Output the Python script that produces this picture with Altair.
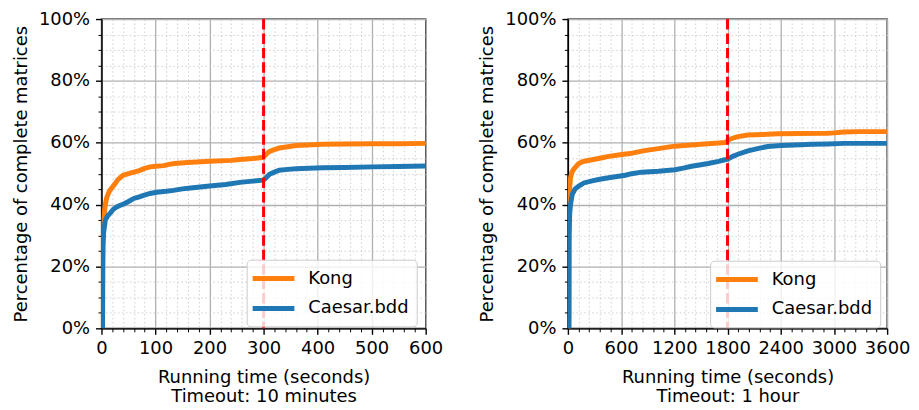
import altair as alt
import pandas as pd

SERIES = ["Kong", "Caesar.bdd"]
COLORS = ["#ff7f0e", "#1f77b4"]

# ---- Left panel (timeout 10 minutes) ----
left_kong_t = [0, 1, 2, 4, 7, 10, 15, 25, 30, 40, 50, 60, 70, 80, 90, 100, 115, 125, 135,
               160, 200, 240, 256, 280, 299, 305, 311, 320, 329, 345, 360, 380, 409, 450, 500, 550, 600]
left_kong_p = [0, 15, 30, 35, 40, 42.5, 44.5, 46.7, 48, 49.5, 50, 50.5, 51, 51.7, 52.2, 52.4, 52.6, 53, 53.3,
               53.6, 54, 54.3, 54.6, 54.9, 55.3, 56.3, 57.2, 57.8, 58.3, 58.7, 59.1, 59.3, 59.5, 59.6, 59.7, 59.7, 59.8]

left_caesar_t = [0, 2, 2.5, 3, 4, 7, 12, 17, 22, 29, 35, 41, 50, 60, 70, 78, 90, 102, 120, 133, 150, 165,
                 200, 230, 256, 280, 299, 303, 311, 320, 329, 345, 360, 409, 450, 501, 550, 600]
left_caesar_p = [0, 0, 20, 27, 31, 35, 36.5, 37.4, 38.5, 39.3, 39.8, 40.2, 41, 42, 42.5, 43, 43.6, 44, 44.3, 44.6, 45.1, 45.4,
                 46, 46.5, 47.2, 47.6, 47.9, 48.4, 49.8, 50.5, 51.1, 51.4, 51.6, 51.9, 52, 52.2, 52.3, 52.5]

# ---- Right panel (timeout 1 hour) ----
right_kong_t = [0, 10, 11, 20, 30, 45, 67, 90, 123, 160, 198, 272, 360, 460, 609, 700, 833, 920, 1020, 1110,
                1208, 1300, 1394, 1500, 1581, 1700, 1769, 1790, 1806, 1880, 1918, 2030, 2200, 2366, 2600,
                2927, 3000, 3114, 3300, 3600]
right_kong_p = [0, 0, 40, 45.5, 48.7, 50.5, 51.5, 52.3, 53.3, 53.8, 54.1, 54.5, 55, 55.6, 56.2, 56.5, 57.3, 57.7, 58.1, 58.5,
                58.9, 59.1, 59.3, 59.5, 59.7, 59.9, 60.1, 60.3, 60.9, 61.7, 62, 62.5, 62.7, 62.9, 63,
                63.1, 63.2, 63.5, 63.6, 63.6]

right_caesar_t = [0, 12, 14, 20, 30, 49, 80, 123, 180, 272, 360, 460, 647, 720, 833, 1020, 1208, 1300, 1394, 1500,
                  1581, 1700, 1769, 1806, 1860, 1918, 2030, 2150, 2254, 2400, 2553, 2750, 2927, 3114, 3300, 3600]
right_caesar_p = [0, 0, 30, 37, 40.2, 43.3, 45, 46, 47, 47.7, 48.2, 48.7, 49.5, 50, 50.5, 50.8, 51.3, 51.8, 52.4, 52.9,
                  53.3, 54, 54.5, 54.8, 55.6, 56.3, 57.4, 58.2, 58.8, 59.1, 59.3, 59.5, 59.6, 59.8, 59.8, 59.8]

left_timeout = [300]
right_timeout = [1800]


def frame(t, p, name):
    return pd.DataFrame({"t": t, "p": p, "series": [name] * len(t)})


def panel(kong, caesar, xmax, xmajor, xminor, timeout, subtitle, w, h, lx, ly):
    maj = f"datum.value % {xmajor} === 0"
    ymaj = "datum.value % 20 === 0"
    xaxis = alt.Axis(
        values=list(range(0, xmax + 1, xminor)),
        format="d",
        labelExpr=f"{maj} ? datum.label : ''",
        labelFlush=False, labelOverlap=False, labelBound=False,
        tickSize={"condition": {"test": maj, "value": 6}, "value": 3.5},
        tickWidth={"condition": {"test": maj, "value": 1.4}, "value": 1.0},
        gridDash={"condition": {"test": maj, "value": []}, "value": [1.5, 2.5]},
        gridColor={"condition": {"test": maj, "value": "#b0b0b0"}, "value": "#cfcfcf"},
        gridWidth={"condition": {"test": maj, "value": 1.3}, "value": 1.0},
        title=["Running time (seconds)", subtitle],
        labelPadding=5, titlePadding=11, titleLineHeight=20,
    )
    yaxis = alt.Axis(
        values=list(range(0, 101, 5)),
        labelExpr=f"{ymaj} ? datum.value + '%' : ''",
        labelOverlap=False, labelBound=False, labelFlush=False,
        tickSize={"condition": {"test": ymaj, "value": 6}, "value": 3.5},
        tickWidth={"condition": {"test": ymaj, "value": 1.4}, "value": 1.0},
        gridDash={"condition": {"test": ymaj, "value": []}, "value": [1.5, 2.5]},
        gridColor={"condition": {"test": ymaj, "value": "#b0b0b0"}, "value": "#cfcfcf"},
        gridWidth={"condition": {"test": ymaj, "value": 1.3}, "value": 1.0},
        title="Percentage of complete matrices",
        labelPadding=6, titlePadding=8,
    )
    legend = alt.Legend(
        title=None, orient="none", legendX=lx, legendY=ly,
        fillColor="rgba(255,255,255,0.8)", strokeColor="#cccccc", cornerRadius=4,
        padding=8, labelFontSize=18, labelColor="black",
        symbolType="M-2.5,0H2.5", symbolSize=282, symbolStrokeWidth=5,
        symbolOffset=8, labelOffset=24, rowPadding=9,
    )
    xs = alt.Scale(domain=[0, xmax], nice=False)
    ys = alt.Scale(domain=[0, 100], nice=False)
    cs = alt.Scale(domain=SERIES, range=COLORS)

    def line(df):
        return alt.Chart(df).mark_line(strokeWidth=5, clip=True).encode(
            x=alt.X("t:Q", scale=xs, axis=xaxis),
            y=alt.Y("p:Q", scale=ys, axis=yaxis),
            color=alt.Color("series:N", scale=cs, legend=legend),
        )

    rule = alt.Chart(pd.DataFrame({"t": timeout})).mark_rule(
        color="red", strokeWidth=3, strokeDash=[10.5, 4]
    ).encode(x=alt.X("t:Q", scale=xs, axis=xaxis))

    return alt.layer(line(kong), line(caesar), rule).properties(width=w, height=h)


left = panel(frame(left_kong_t, left_kong_p, "Kong"), frame(left_caesar_t, left_caesar_p, "Caesar.bdd"),
             600, 100, 20, left_timeout, "Timeout: 10 minutes", 326, 311, 146, 242)
right = panel(frame(right_kong_t, right_kong_p, "Kong"), frame(right_caesar_t, right_caesar_p, "Caesar.bdd"),
              3600, 600, 120, right_timeout, "Timeout: 1 hour", 321, 311, 143, 243)

chart = alt.hconcat(left, right, spacing=34).resolve_scale(color="independent").configure(
    font="DejaVu Sans", padding={"left": 3, "top": 0, "right": 0, "bottom": 0}
).configure_view(stroke="black", strokeWidth=1.4).configure_axis(
    labelFontSize=18, titleFontSize=18, titleFontWeight="normal", labelColor="black",
    titleColor="black", domainColor="black", domainWidth=1.4, tickColor="black",
)

chart.save("out.html", embed_options={"renderer": "svg", "actions": False})
